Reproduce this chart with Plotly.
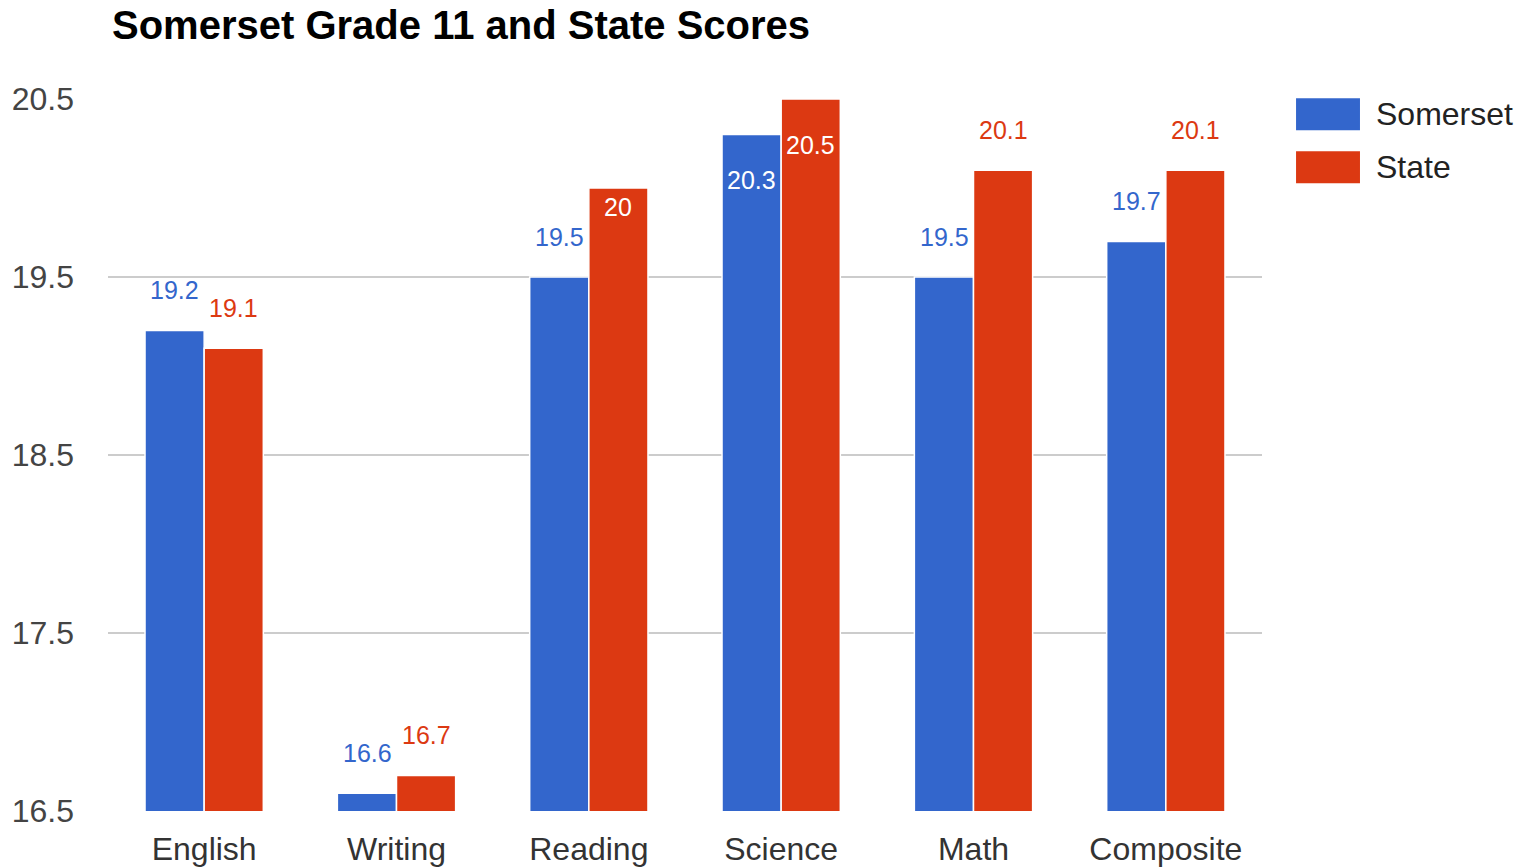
import plotly.graph_objects as go

FONT = "Liberation Sans, Arial, sans-serif"
BLUE = "#3366cc"
RED = "#dc3912"
GRID = "#cccccc"

categories = ["English", "Writing", "Reading", "Science", "Math", "Composite"]
somerset = [19.2, 16.6, 19.5, 20.3, 19.5, 19.7]
state = [19.1, 16.7, 20.0, 20.5, 20.1, 20.1]
y_ticks = [16.5, 17.5, 18.5, 19.5, 20.5]

# which data labels sit inside the bar (the rest float above it)
inside = {
    "Somerset": [False, False, False, True, False, False],
    "State": [False, False, True, True, False, False],
}
# pixel offsets of the inside labels from the bar top
inside_shift = {
    "Somerset": [0, 0, 0, -45, 0, 0],
    "State": [0, 0, -19, -46, 0, 0],
}
OUT_SHIFT = 40
BAR_OFFSET = 29.5

series = [("Somerset", somerset, BLUE, -BAR_OFFSET), ("State", state, RED, BAR_OFFSET)]

fig = go.Figure()
for name, vals, color, _ in series:
    fig.add_trace(go.Bar(
        x=categories, y=vals, name=name,
        marker=dict(color=color, line=dict(color="white", width=1.5)),
        showlegend=False,
    ))

annotations = []
for name, vals, color, dx in series:
    for i, (cat, v) in enumerate(zip(categories, vals)):
        txt = f"{v:g}"
        if inside[name][i]:
            annotations.append(dict(
                x=cat, y=v, xref="x", yref="y", text=txt, showarrow=False,
                xshift=dx, yshift=inside_shift[name][i],
                font=dict(family=FONT, size=25, color="white"),
            ))
        else:
            annotations.append(dict(
                x=cat, y=v, xref="x", yref="y", text=txt, showarrow=False,
                xshift=dx, yshift=OUT_SHIFT,
                font=dict(family=FONT, size=25, color=color),
            ))

# hand-drawn legend with large swatches like the original
shapes = []
for k, (name, _, color, _) in enumerate(series):
    top = 1.001 - k * 0.0745
    shapes.append(dict(type="rect", xref="paper", yref="paper",
                       x0=1.0295, x1=1.0849, y0=top - 0.045, y1=top,
                       fillcolor=color, line=dict(width=0)))
    annotations.append(dict(x=1.097, y=top - 0.0225, xref="paper", yref="paper",
                            text=name, showarrow=False, xanchor="left", yanchor="middle",
                            font=dict(family=FONT, size=32, color="#222222")))

fig.update_layout(
    width=1535, height=867,
    paper_bgcolor="white", plot_bgcolor="white",
    margin=dict(l=108, r=273, t=99, b=56, autoexpand=False),
    barmode="group", bargap=0.385, bargroupgap=0,
    font=dict(family=FONT, color="#444444", size=32),
    title=dict(text="<b>Somerset Grade 11 and State Scores</b>",
               x=112 / 1535, xanchor="left", xref="container",
               y=1 - 25 / 867, yanchor="middle", yref="container",
               font=dict(family=FONT, size=40, color="#000000")),
    xaxis=dict(showgrid=False, showline=False, ticks="", automargin=False,
               tickfont=dict(size=32, color="#333333"), ticklabelstandoff=16),
    yaxis=dict(range=[16.5, 20.5], tickvals=y_ticks, ticktext=[f"{t:g}" for t in y_ticks],
               gridcolor=GRID, gridwidth=1.5, zeroline=False, showline=False,
               automargin=False,
               tickfont=dict(size=32, color="#444444"), ticklabelstandoff=33),
    annotations=annotations,
    shapes=shapes,
)

fig.write_html(
    "out.html",
    config={"displayModeBar": False},
    post_script="document.body.style.margin='0';document.body.style.overflow='hidden';",
)
